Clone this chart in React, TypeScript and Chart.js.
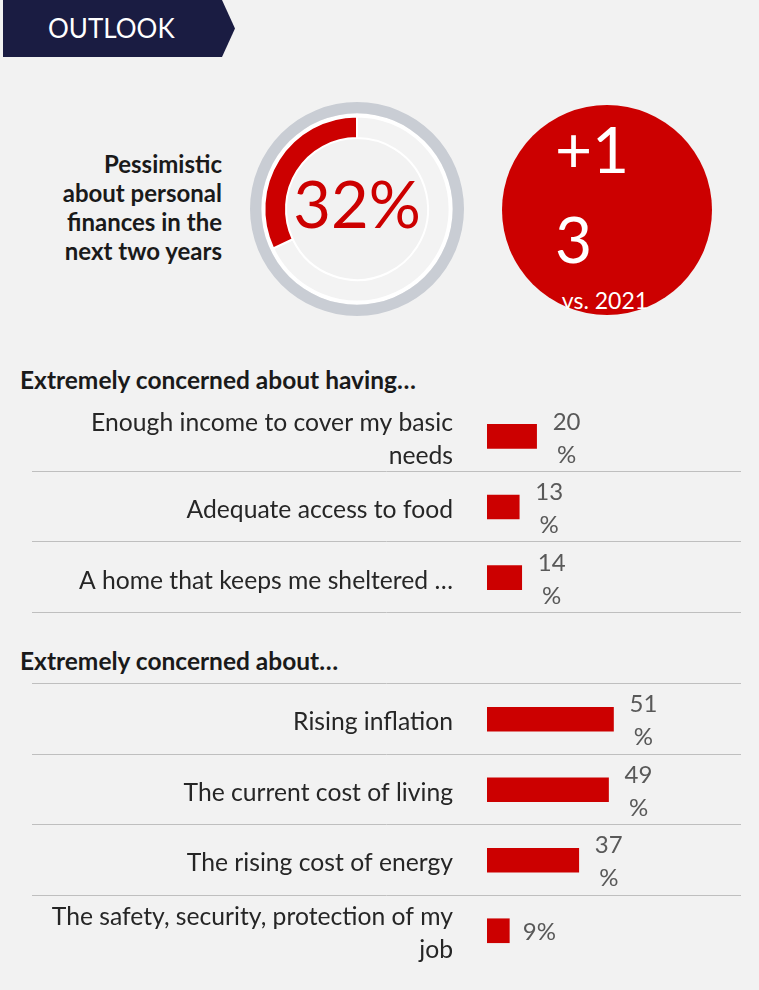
import React, { useEffect, useRef } from "react";
import { Chart, registerables } from "chart.js";

Chart.register(...registerables);

// ---- data ----
const HEADER_TITLE = "OUTLOOK";
const PESSIMISTIC_LABEL = ["Pessimistic", "about personal", "finances in the", "next two years"];
const PESSIMISTIC_VALUE = [32];
const CHANGE_TEXT = "+13";
const CHANGE_LABEL = "vs. 2021";

const HAVING_TITLE = "Extremely concerned about having…";
const HAVING_LABELS: (string | string[])[] = [
  ["Enough income to cover my basic", "needs"],
  "Adequate access to food",
  "A home that keeps me sheltered …",
];
const HAVING_VALUES = [20, 13, 14];

const ABOUT_TITLE = "Extremely concerned about…";
const ABOUT_LABELS: (string | string[])[] = [
  "Rising inflation",
  "The current cost of living",
  "The rising cost of energy",
  ["The safety, security, protection of my", "job"],
];
const ABOUT_VALUES = [51, 49, 37, 9];

// ---- styles ----
const RED = "#cc0000";
const NAVY = "#1a1c42";
const BG = "#f2f2f2";
const FONT = "Lato, 'Open Sans', sans-serif";

const separatorPlugin = {
  id: "separators",
  beforeDatasetsDraw(chart: any, _args: any, opts: any) {
    const { ctx, chartArea, scales } = chart;
    const n = chart.data.labels.length;
    const step = (chartArea.bottom - chartArea.top) / n;
    ctx.save();
    ctx.strokeStyle = opts.color;
    ctx.lineWidth = 1;
    for (let i = 0; i < n; i++) {
      const c = scales.y.getPixelForValue(i);
      const yy = opts.side === "below" ? c + step / 2 : c - step / 2;
      const py = Math.round(yy) - 0.5;
      ctx.beginPath();
      ctx.moveTo(opts.left, py);
      ctx.lineTo(opts.right, py);
      ctx.stroke();
    }
    ctx.restore();
  },
};

const valueLabelPlugin = {
  id: "valueLabels",
  afterDatasetsDraw(chart: any, _args: any, opts: any) {
    const ctx = chart.ctx;
    const meta = chart.getDatasetMeta(0);
    const data = chart.data.datasets[0].data;
    ctx.save();
    ctx.font = `${opts.size}px ${FONT}`;
    ctx.fillStyle = opts.color;
    ctx.textAlign = "center";
    ctx.textBaseline = "middle";
    meta.data.forEach((bar: any, i: number) => {
      const v = data[i];
      const full = `${v}%`;
      const lines = ctx.measureText(full).width <= opts.box ? [full] : [`${v}`, "%"];
      const cx = bar.x + opts.offset;
      lines.forEach((t: string, j: number) => {
        ctx.fillText(t, cx, bar.y + opts.dy + (j - (lines.length - 1) / 2) * opts.lineHeight);
      });
    });
    ctx.restore();
  },
};

function BarGroup({ labels, values, top, height, side }: any) {
  const ref = useRef<HTMLCanvasElement>(null);
  useEffect(() => {
    const chart = new Chart(ref.current!, {
      type: "bar",
      data: {
        labels,
        datasets: [
          {
            data: values,
            backgroundColor: RED,
            borderWidth: 0,
            barThickness: 24,
          },
        ],
      },
      options: {
        animation: false,
        responsive: false,
        indexAxis: "y",
        events: [],
        layout: { padding: { top: 1, bottom: 1, right: 24, left: 0 } },
        scales: {
          x: { display: false, min: 0, max: 100 },
          y: {
            afterFit: (scale: any) => {
              scale.width = 487;
              scale.paddingTop = 0;
              scale.paddingBottom = 0;
            },
            grid: { display: false, drawTicks: false },
            border: { display: false },
            ticks: {
              autoSkip: false,
              padding: 34,
              labelOffset: 3,
              color: "#262626",
              font: { family: FONT, size: 24.7, lineHeight: 1.34 },
            },
          },
        },
        plugins: {
          legend: { display: false },
          tooltip: { enabled: false },
          separators: { side, left: 32, right: 741, color: "#bfbfbf" },
          valueLabels: { size: 24, color: "#595959", box: 42, offset: 30, lineHeight: 33, dy: 2 },
        } as any,
      },
      plugins: [separatorPlugin, valueLabelPlugin],
    });
    return () => chart.destroy();
  }, []);
  return (
    <canvas
      ref={ref}
      width={759}
      height={height}
      style={{ position: "absolute", left: 0, top, width: 759, height }}
    />
  );
}

function Donut() {
  const ref = useRef<HTMLCanvasElement>(null);
  useEffect(() => {
    const v = PESSIMISTIC_VALUE[0];
    const chart = new Chart(ref.current!, {
      type: "doughnut",
      data: {
        datasets: [
          { data: [100], backgroundColor: ["#c9cdd4"], borderWidth: 0, weight: 11 },
          { data: [100], backgroundColor: ["#ffffff"], borderWidth: 0, weight: 3 },
          {
            data: [100 - v, v],
            backgroundColor: ["#f3f3f3", RED],
            borderColor: "#ffffff",
            borderWidth: 2,
            weight: 21,
          },
        ],
      } as any,
      options: {
        animation: false,
        responsive: false,
        events: [],
        cutout: 71,
        rotation: 0,
        layout: { padding: 0 },
        plugins: { legend: { display: false }, tooltip: { enabled: false } },
      },
    });
    return () => chart.destroy();
  }, []);
  return (
    <canvas
      ref={ref}
      width={214}
      height={214}
      style={{ position: "absolute", left: 250, top: 102, width: 214, height: 214 }}
    />
  );
}

const headingStyle: React.CSSProperties = {
  position: "absolute",
  left: 20,
  fontSize: 24.5,
  lineHeight: "24.5px",
  fontWeight: 700,
  color: "#1a1a1a",
  whiteSpace: "nowrap",
};

export default function App() {
  return (
    <div
      style={{
        position: "fixed",
        left: 0,
        top: 0,
        width: 759,
        height: 990,
        background: BG,
        fontFamily: FONT,
        overflow: "hidden",
      }}
    >
      {/* header */}
      <div
        style={{
          position: "absolute",
          left: 3,
          top: 0,
          width: 232,
          height: 57,
          background: NAVY,
          clipPath: "polygon(0 0, 219px 0, 232px 50%, 219px 100%, 0 100%)",
        }}
      />
      <div
        style={{
          position: "absolute",
          left: 48,
          top: 15,
          fontSize: 26,
          lineHeight: "26px",
          color: "#ffffff",
          whiteSpace: "nowrap",
        }}
      >
        {HEADER_TITLE}
      </div>

      {/* pessimistic label */}
      <div
        style={{
          position: "absolute",
          left: 2,
          top: 148.5,
          width: 220,
          textAlign: "right",
          fontWeight: 700,
          fontSize: 24,
          lineHeight: "29px",
          color: "#1a1a1a",
        }}
      >
        {PESSIMISTIC_LABEL.map((l, i) => (
          <div key={i} style={{ whiteSpace: "nowrap" }}>
            {l}
          </div>
        ))}
      </div>

      <Donut />
      <div
        style={{
          position: "absolute",
          left: 257,
          width: 200,
          top: 170.5,
          textAlign: "center",
          fontSize: 65,
          lineHeight: "64px",
          color: RED,
        }}
      >
        {`${PESSIMISTIC_VALUE[0]}%`}
      </div>

      {/* change circle */}
      <div
        style={{
          position: "absolute",
          left: 502,
          top: 105,
          width: 210,
          height: 210,
          borderRadius: "50%",
          background: RED,
        }}
      />
      <div
        style={{
          position: "absolute",
          left: 555,
          top: 103.5,
          width: 80,
          fontSize: 64,
          lineHeight: "90px",
          color: "#ffffff",
          wordBreak: "break-all",
        }}
      >
        {CHANGE_TEXT}
      </div>
      <div
        style={{
          position: "absolute",
          left: 505,
          width: 200,
          top: 289,
          textAlign: "center",
          fontSize: 23,
          lineHeight: "22px",
          color: "#ffffff",
        }}
      >
        {CHANGE_LABEL}
      </div>

      {/* section 1 */}
      <div style={{ ...headingStyle, top: 368 }}>{HAVING_TITLE}</div>
      <BarGroup labels={HAVING_LABELS} values={HAVING_VALUES} top={400} height={214} side="below" />

      {/* section 2 */}
      <div style={{ ...headingStyle, top: 649 }}>{ABOUT_TITLE}</div>
      <BarGroup labels={ABOUT_LABELS} values={ABOUT_VALUES} top={683} height={284} side="above" />
    </div>
  );
}
